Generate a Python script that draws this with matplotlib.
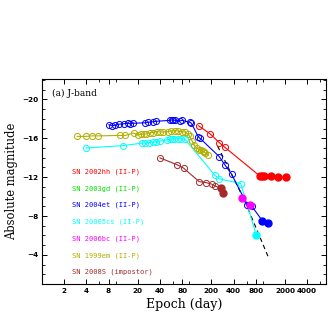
import numpy as np
import matplotlib
matplotlib.use('Agg')
import matplotlib.pyplot as plt
from matplotlib.ticker import FixedLocator, NullFormatter

# Daten -------------------------------------------------------------------------
# SN 2002hh
hh_t_open = [134, 192, 255, 302]
hh_m_open = [-17.29, -16.46, -15.57, -15.1]
hh_t_fill = [912, 980, 1043, 1286, 1615, 2075]
hh_m_fill = [-12.12, -12.1, -12.15, -12.12, -12.0, -12.03]

# SN 2004et
et_t_open = [8.1, 9.0, 9.8, 11.0, 12.8, 14.5, 15.6, 17.2, 25, 27.7, 31.8, 35, 55, 58, 60.5, 64,
             75, 80, 102, 107, 133, 140, 255, 305, 376, 613, 702]
et_m_open = [-17.4, -17.3, -17.35, -17.45, -17.5, -17.55, -17.5, -17.55, -17.6, -17.65, -17.7, -17.75,
             -17.85, -17.9, -17.88, -17.85, -17.8, -17.85, -17.65, -17.55, -16.15, -16.0, -14.13,
             -13.27, -12.31, -9.18, -9.05]
et_t_fill = [980, 1159]
et_m_fill = [-7.54, -7.26]

# SN 2005cs
cs_t_open = [3.95, 12.5, 22.5, 25.2, 28, 32, 35, 40, 50, 54, 58, 62, 70, 78, 88, 223, 255, 500]
cs_m_open = [-15.0, -15.25, -15.5, -15.52, -15.57, -15.6, -15.65, -15.72, -15.85, -15.88, -15.9,
             -15.92, -15.95, -15.95, -15.88, -12.2, -11.83, -11.35]
cs_t_fill = [810]
cs_m_fill = [-6.1]

# SN 2006bc
bc_t_fill = [513, 667]
bc_m_fill = [-9.9, -9.1]

# SN 1999em
em_t_open = [3.0, 3.9, 4.8, 5.8, 11.4, 13.6, 17.5, 20, 22, 24, 26, 29, 32, 36, 40, 44, 52, 57, 64,
             71, 79, 87, 95, 102, 110, 116, 126, 136, 143, 152, 160, 166, 181]
em_m_open = [-16.2, -16.2, -16.25, -16.25, -16.3, -16.3, -16.55, -16.35, -16.4, -16.45, -16.45,
             -16.55, -16.6, -16.7, -16.65, -16.65, -16.7, -16.75, -16.8, -16.75, -16.7, -16.65,
             -16.45, -16.2, -15.7, -15.3, -15.0, -14.85, -14.8, -14.7, -14.6, -14.5, -14.25]

# SN 2008S
s_t_open = [40, 69, 84, 136, 167, 203, 223]
s_m_open = [-13.99, -13.27, -12.93, -11.55, -11.45, -11.28, -11.1]
s_t_fill = [269, 289]
s_m_fill = [-10.87, -10.35]

# gestrichelte Linie
dash_t = [243, 557, 1183]
dash_m = [-15.2, -9.7, -3.8]

legend_labels = ['SN 2002hh (II-P)', 'SN 2003gd (II-P)', 'SN 2004et (II-P)', 'SN 20005cs (II-P)',
                 'SN 2006bc (II-P)', 'SN 1999em (II-P)', 'SN 2008S (impostor)']
legend_colors = ['#ff0000', '#00e000', '#0000ff', '#00ffff', '#ff00ff', '#b0b000', '#a52a2a']

xticks = [2, 4, 8, 20, 40, 80, 200, 400, 800, 2000, 4000]
xminor = [1, 6, 10, 60, 100, 600, 1000, 6000]

# Plot --------------------------------------------------------------------------
fig = plt.figure(figsize=(3.35, 3.35), dpi=100)
ax = fig.add_axes([0.1245, 0.152, 0.8485, 0.612])

ms = 4.4
lw = 0.8


def series(t_open, m_open, t_fill, m_fill, col):
    t_all = list(t_open) + list(t_fill)
    m_all = list(m_open) + list(m_fill)
    ax.plot(t_all, m_all, '-', color=col, lw=lw, zorder=2)
    if t_open:
        ax.plot(t_open, m_open, 'o', mfc='none', mec=col, ms=ms, mew=0.7, zorder=3)
    if t_fill:
        ax.plot(t_fill, m_fill, 'o', mfc=col, mec=col, ms=ms + 0.6, zorder=3)


series(em_t_open, em_m_open, [], [], legend_colors[5])
series(cs_t_open, cs_m_open, cs_t_fill, cs_m_fill, legend_colors[3])
series(et_t_open, et_m_open, et_t_fill, et_m_fill, legend_colors[2])
series(hh_t_open, hh_m_open, hh_t_fill, hh_m_fill, legend_colors[0])
series(s_t_open, s_m_open, s_t_fill, s_m_fill, legend_colors[6])
series([], [], bc_t_fill, bc_m_fill, legend_colors[4])
ax.plot(dash_t, dash_m, '--', color='black', lw=0.8, dashes=(4, 3), zorder=1)

ax.set_xscale('log')
ax.set_xlim(0.99, 7200)
ax.set_ylim(-1, -22.1)
ax.xaxis.set_major_locator(FixedLocator(xticks))
ax.xaxis.set_minor_locator(FixedLocator(xminor))
ax.xaxis.set_minor_formatter(NullFormatter())
ax.set_xticklabels([str(v) for v in xticks])
ax.set_yticks([-20, -16, -12, -8, -4])
ax.set_yticks(np.arange(-22, 0), minor=True)
ax.tick_params(which='both', direction='in', top=True, right=True, labelsize=5.2, pad=2.5)
ax.tick_params(which='major', length=3.5, width=0.7)
ax.tick_params(which='minor', length=2, width=0.6)
for lab in ax.get_xticklabels() + ax.get_yticklabels():
    lab.set_fontweight('bold')
for s in ax.spines.values():
    s.set_linewidth(0.8)

ax.set_xlabel('Epoch (day)', family='DejaVu Serif', fontsize=9, labelpad=3)
ax.set_ylabel('Absolute magnitude', family='DejaVu Serif', fontsize=8.3, labelpad=3)
ax.text(0.035, 0.93, '(a) J-band', transform=ax.transAxes, family='DejaVu Serif', fontsize=6.5,
        va='center', ha='left')

for i, (txt, col) in enumerate(zip(legend_labels, legend_colors)):
    ax.text(0.105, 0.548 - i * 0.0815, txt, color=col, transform=ax.transAxes,
            family='DejaVu Sans Mono', fontsize=5, va='center', ha='left')

fig.savefig('out.png', dpi=100)
